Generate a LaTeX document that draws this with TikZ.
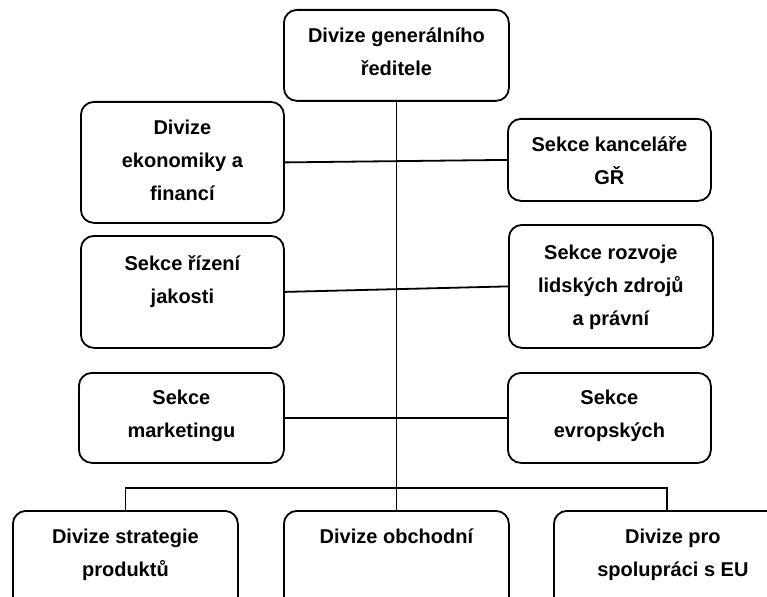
\documentclass[tikz,border=0pt]{standalone}
\usepackage{fontspec}
\setmainfont{Liberation Sans}
\begin{document}
\begin{tikzpicture}[x=1pt,y=-1pt,
  orgbox/.style={draw, line width=1.8pt, rounded corners=13pt, inner sep=0pt, anchor=north west},
  orgtext/.style={anchor=north, inner sep=0pt, align=center,
    font=\fontsize{20}{33}\selectfont\bfseries},
  link/.style={line width=1.8pt}]
\useasboundingbox (0,0) rectangle (767,596);
\clip (0,0) rectangle (767,596);

% boxes
\node[orgbox, minimum width=225pt, minimum height=91pt]  (gr)   at (283,9)   {};
\node[orgbox, minimum width=203pt, minimum height=121pt] (ek)   at (80,101)  {};
\node[orgbox, minimum width=203pt, minimum height=82pt]  (kanc) at (507,118) {};
\node[orgbox, minimum width=203pt, minimum height=112pt] (riz)  at (80,235)  {};
\node[orgbox, minimum width=204pt, minimum height=123pt] (rozv) at (508,224) {};
\node[orgbox, minimum width=205pt, minimum height=90pt]  (mark) at (78,372)  {};
\node[orgbox, minimum width=203pt, minimum height=90pt]  (evr)  at (507,372) {};
\node[orgbox, minimum width=225pt, minimum height=110pt] (str)  at (12,510)  {};
\node[orgbox, minimum width=225pt, minimum height=110pt] (obch) at (283,510) {};
\node[orgbox, minimum width=226pt, minimum height=110pt] (eu)   at (553,510) {};

% labels
\node[orgtext] (grT)   at ([yshift=-9.9pt]gr.north)   {\strut Divize generálního\\ředitele};
\node[orgtext] (ekT)   at ([yshift=-9.9pt]ek.north)   {\strut Divize\\ekonomiky a\\financí};
\node[orgtext] (kancT) at ([yshift=-9.9pt]kanc.north) {\strut Sekce kanceláře\\GŘ};
\node[orgtext] (rizT)  at ([yshift=-11.9pt]riz.north) {\strut Sekce řízení\\jakosti};
\node[orgtext] (rozvT) at ([yshift=-11.9pt]rozv.north){\strut Sekce rozvoje\\lidských zdrojů\\a právní};
\node[orgtext] (markT) at ([yshift=-8.9pt]mark.north) {\strut Sekce\\marketingu};
\node[orgtext] (evrT)  at ([yshift=-8.9pt]evr.north)  {\strut Sekce\\evropských};
\node[orgtext] (strT)  at ([yshift=-9.9pt]str.north)  {\strut Divize strategie\\produktů};
\node[orgtext] (obchT) at ([yshift=-9.9pt]obch.north) {\strut Divize obchodní};
\node[orgtext] (euT)   at ([xshift=6pt,yshift=-9.9pt]eu.north) {\strut Divize pro\\spolupráci s EU};

% connectors
\draw[link] (gr.south) -- (obch.north);
\draw[link] (ek.east) -- (kanc.west);
\draw[link] (riz.east) -- (rozv.west);
\draw[link] (mark.east) -- (evr.west);
\coordinate (bus) at (396,488);
\draw[link] (str.north) |- (bus) -| (eu.north);
\end{tikzpicture}
\end{document}
